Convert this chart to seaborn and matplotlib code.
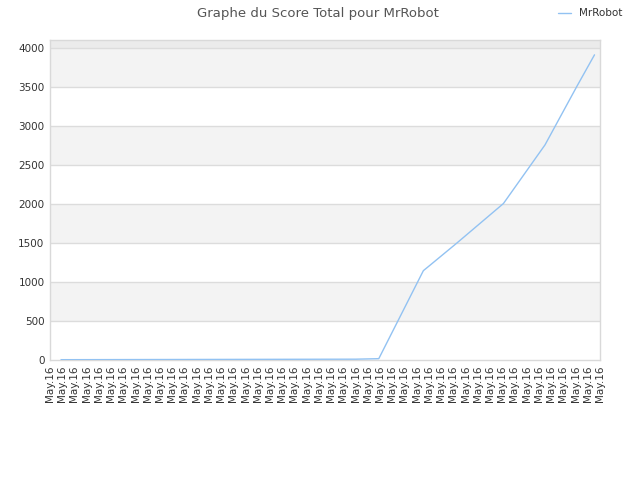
import matplotlib
matplotlib.use("Agg")
import matplotlib.pyplot as plt
import seaborn as sns
import pandas as pd

# data (x in tick-label units)
day_pos = [0.9, 25.0, 25.0, 26.9, 30.55, 30.95, 33.27, 37.1, 40.5, 43.1, 44.55]
score = [4, 4, 17, 17, 1145, 1196, 1496, 2005, 2756, 3504, 3910]
tick_labels = ["May.16"] * 46
y_ticks = [0, 500, 1000, 1500, 2000, 2500, 3000, 3500, 4000]
player = "MrRobot"

sns.set_style("white")
plt.rcParams["font.family"] = ["DejaVu Sans"]

df = pd.DataFrame({"pos": day_pos, "score": score})

fig = plt.figure(figsize=(6.4, 4.8), dpi=100)
ax = fig.add_axes([50 / 640, 120 / 480, 550 / 640, 320 / 480])

# alternating bands
for lo in range(500, 4000, 1000):
    ax.axhspan(lo, lo + 500, color="#f3f3f3", zorder=0, lw=0)
ax.axhspan(4000, 4100, color="#ebebeb", zorder=0, lw=0)
for yt in y_ticks[1:]:
    ax.axhline(yt, color="#dcdcdc", lw=1, zorder=1)

sns.lineplot(data=df, x="pos", y="score", ax=ax, color="#92c2f2", lw=1,
             label=player, zorder=3)

ax.set_xlim(0, 45)
ax.set_ylim(0, 4100)
ax.set_xticks(range(len(tick_labels)))
ax.set_xticklabels(tick_labels, rotation=90, fontsize=7.5, color="#333333")
ax.set_yticks(y_ticks)
ax.set_yticklabels([str(v) for v in y_ticks], fontsize=7.5, color="#333333")
ax.tick_params(length=0, pad=4)
ax.set_xlabel("")
ax.set_ylabel("")
for sp in ax.spines.values():
    sp.set_color("#d9d9d9")
    sp.set_linewidth(1)

fig.suptitle("Graphe du Score Total pour MrRobot", x=0.497, y=0.985,
             fontsize=9.5, color="#555555")
leg = ax.legend(loc="upper right", bbox_to_anchor=(632 / 640, 481 / 480),
                bbox_transform=fig.transFigure, frameon=False, fontsize=7.5,
                handlelength=1.2)
for t in leg.get_texts():
    t.set_color("#333333")

fig.savefig("out.png", dpi=100)
